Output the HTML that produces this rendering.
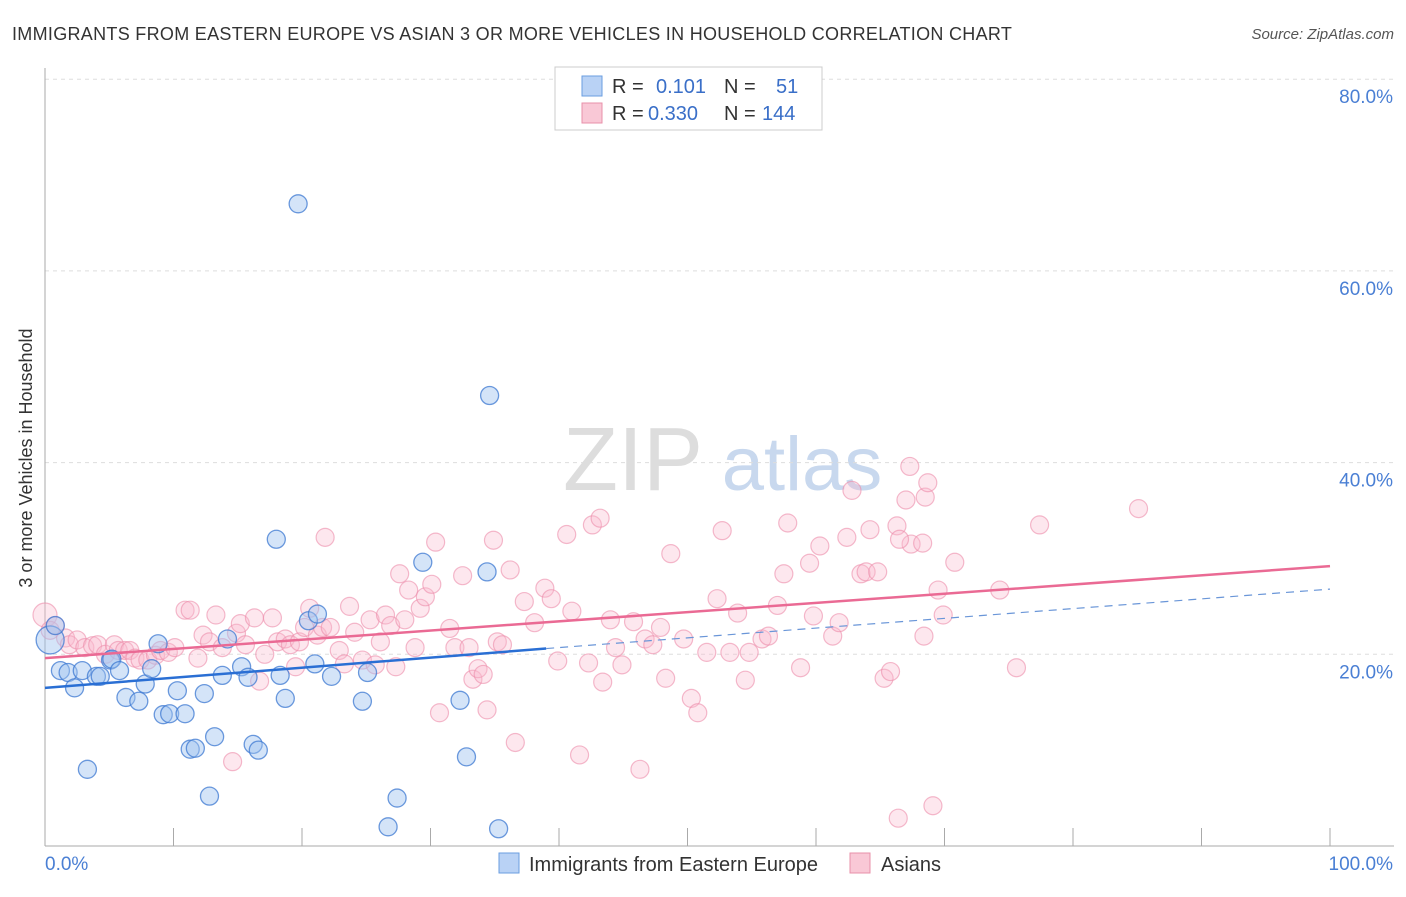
<!DOCTYPE html>
<html><head><meta charset="utf-8"><style>
body{margin:0;background:#fff;font-family:"Liberation Sans",sans-serif}
svg text{font-family:"Liberation Sans",sans-serif}
</style></head><body>
<svg id="c" width="1406" height="892" xmlns="http://www.w3.org/2000/svg">
<text x="12" y="40" font-size="18" letter-spacing="0.3" fill="#333">IMMIGRANTS FROM EASTERN EUROPE VS ASIAN 3 OR MORE VEHICLES IN HOUSEHOLD CORRELATION CHART</text>
<text x="1394" y="39" font-size="15" fill="#555" font-style="italic" text-anchor="end">Source: ZipAtlas.com</text>
<text x="32" y="458" font-size="18" fill="#333" text-anchor="middle" transform="rotate(-90 32 458)">3 or more Vehicles in Household</text>
<g><text x="633" y="490" font-size="90" fill="#ddd" font-family="Liberation Serif" text-anchor="middle">ZIP</text><text x="802" y="490" font-size="76" fill="#c8d8ee" text-anchor="middle">atlas</text></g>
<g id="grid"></g><g id="pts"></g><g id="lines"></g>
<g>
<rect x="555" y="67" width="267" height="63" fill="#fff" stroke="#ccc"/>
<rect x="582" y="76" width="20" height="20" fill="#b9d2f5" stroke="#6a9ee0"/>
<rect x="582" y="103" width="20" height="20" fill="#f9c8d6" stroke="#e890aa"/>
<text x="612" y="93" font-size="20" fill="#333">R =</text><text x="656" y="93" font-size="20" fill="#3a6fc8">0.101</text>
<text x="724" y="93" font-size="20" fill="#333">N =</text><text x="776" y="93" font-size="20" fill="#3a6fc8">51</text>
<text x="612" y="120" font-size="20" fill="#333">R =</text><text x="648" y="120" font-size="20" fill="#3a6fc8">0.330</text>
<text x="724" y="120" font-size="20" fill="#333">N =</text><text x="762" y="120" font-size="20" fill="#3a6fc8">144</text>
</g>
<g>
<rect x="499" y="853" width="20" height="20" fill="#b9d2f5" stroke="#6a9ee0"/>
<text x="529" y="871" font-size="20" fill="#333">Immigrants from Eastern Europe</text>
<rect x="850" y="853" width="20" height="20" fill="#f9c8d6" stroke="#e890aa"/>
<text x="881" y="871" font-size="20" fill="#333">Asians</text>
</g>
</svg>
<script>
const yTicks=[20,40,60,80];
const xTickLabels=["0.0%","100.0%"];
const blueX=[0.4,0.8,1.2,1.8,2.3,2.9,3.3,4.0,4.3,5.1,5.2,5.8,6.3,7.3,7.8,8.3,8.8,9.2,9.7,10.3,10.9,11.3,11.7,12.4,13.2,12.8,13.8,14.2,15.3,15.8,16.2,16.6,18.0,18.3,18.7,19.7,20.5,21.0,21.2,22.3,24.7,25.1,27.4,26.7,29.4,32.3,32.8,34.4,34.6,35.3];
const blueY=[21.5,23.0,18.3,18.1,16.5,18.3,8.0,17.7,17.7,19.4,19.5,18.3,15.5,15.1,16.9,18.5,21.1,13.7,13.8,16.2,13.8,10.1,10.2,15.9,11.4,5.2,17.8,21.6,18.7,17.6,10.6,10.0,32.0,17.8,15.4,67.0,23.5,19.0,24.2,17.7,15.1,18.1,5.0,2.0,29.6,15.2,9.3,28.6,47.0,1.8];
const pinkX=[0.0,0.4,0.8,1.6,1.9,2.5,3.1,3.7,4.1,4.7,5.4,5.7,6.2,6.6,7.0,7.4,8.0,8.6,9.0,9.6,10.1,10.9,11.3,11.9,12.3,12.8,13.3,13.8,14.6,14.9,15.2,15.6,16.3,16.7,17.1,17.7,18.1,18.7,19.1,19.5,19.8,20.2,20.6,21.2,21.6,21.8,22.2,22.9,23.3,23.7,24.1,24.7,25.3,25.7,26.1,26.5,26.9,27.3,27.6,28.0,28.3,28.8,29.2,29.6,30.1,30.4,30.7,31.5,31.9,32.5,33.0,33.3,33.7,34.1,34.4,34.9,35.2,35.6,36.2,36.6,37.3,38.1,38.9,39.4,39.9,40.6,41.0,41.6,42.3,42.6,43.2,43.4,44.0,44.4,44.9,45.8,46.3,46.7,47.3,47.9,48.3,48.7,49.7,50.3,50.8,51.5,52.3,52.7,53.3,53.9,54.5,54.8,55.8,56.3,57.0,57.5,57.8,58.8,59.5,59.8,60.3,61.3,61.8,62.4,62.8,63.5,63.9,64.2,64.8,65.3,65.8,66.3,67.0,67.4,68.3,68.5,69.1,66.4,66.5,67.3,68.4,68.7,69.5,69.9,70.8,74.3,75.6,77.4,85.1];
const pinkY=[24.1,22.5,23.0,21.7,21.0,21.5,20.7,20.9,21.0,20.0,21.0,20.4,20.4,20.4,19.6,19.4,19.4,19.9,20.4,20.2,20.7,24.6,24.6,19.6,22.0,21.3,24.1,20.7,8.8,22.2,23.2,21.0,23.8,17.2,20.0,23.8,21.3,21.6,21.0,18.7,21.3,22.8,24.8,22.0,22.8,32.2,22.8,20.4,19.0,25.0,22.3,19.4,23.6,18.9,21.3,24.1,23.0,18.7,28.4,23.6,26.7,20.7,24.8,26.0,27.3,31.7,13.9,22.7,20.7,28.2,20.7,17.4,18.5,17.9,14.2,31.9,21.3,21.0,28.8,10.8,25.5,23.3,26.9,25.8,19.3,32.5,24.5,9.5,19.1,33.5,34.2,17.1,23.6,20.7,18.9,23.4,8.0,21.6,21.0,22.8,17.5,30.5,21.6,15.4,13.9,20.2,25.8,32.9,20.2,24.3,17.3,20.2,21.6,21.9,25.1,28.4,33.7,18.6,29.5,24.0,31.3,21.9,23.3,32.2,37.1,28.4,28.6,33.0,28.6,17.5,18.2,33.4,36.1,31.5,31.6,36.4,4.2,2.9,32.0,39.6,21.9,37.9,26.7,24.1,29.6,26.7,18.6,33.5,35.2];
const blueLine=[[0,16.5],[39,20.6]],blueDash=[[39,20.6],[100,26.8]];
const pinkLine=[[0,19.6],[100,29.2]];
const NS='http://www.w3.org/2000/svg';
const X=v=>45+v*12.85, Y=v=>846-v*9.585;
function mk(t,a,p){const e=document.createElementNS(NS,t);for(const k in a)e.setAttribute(k,a[k]);p.appendChild(e);return e;}
const grid=document.getElementById('grid');
yTicks.forEach(t=>{const l=mk('line',{x1:45,x2:1394,y1:Y(t),y2:Y(t),stroke:'#ddd','stroke-dasharray':'4,4'},grid);

const tx=mk('text',{x:1393,y:Y(t)+24,'font-size':19,fill:'#4a7fd4','text-anchor':'end'},grid);tx.textContent=t.toFixed(1)+'%';
});
const ax=mk('line',{x1:45,x2:45,y1:68,y2:846,stroke:'#aaa'},grid);
const bx=mk('line',{x1:45,x2:1394,y1:846,y2:846,stroke:'#aaa'},grid);
for(let i=0;i<=10;i++){const t=mk('line',{x1:X(i*10),x2:X(i*10),y1:828,y2:846,stroke:'#aaa'},grid);}
[[0,'start',45],[1,'end',1393]].forEach(([i,a,x])=>{const t=mk('text',{x:x,y:870,'font-size':19,fill:'#4a7fd4','text-anchor':a},grid);t.textContent=xTickLabels[i];});
const pts=document.getElementById('pts');
pinkX.forEach((v,i)=>{const c=mk('circle',{cx:X(v),cy:Y(pinkY[i]),r:i==0?12:9,fill:'rgba(248,185,205,0.35)',stroke:'rgba(236,140,170,0.6)','stroke-width':1.2},pts);
});
blueX.forEach((v,i)=>{const c=mk('circle',{cx:X(v),cy:Y(blueY[i]),r:i==0?14:9,fill:'rgba(160,195,240,0.45)',stroke:'rgba(60,120,210,0.75)','stroke-width':1.3},pts);
});
const lines=document.getElementById('lines');
function ln(p,col,w,d,n){const l=mk('line',{x1:X(p[0][0]),y1:Y(p[0][1]),x2:X(p[1][0]),y2:Y(p[1][1]),stroke:col,'stroke-width':w},lines);if(d)l.setAttribute('stroke-dasharray',d);
}
ln(pinkLine,'#ea6a94',2.5,null,'asian-trend-line');
ln(blueLine,'#2a6fd4',2.5,null,'eastern-europe-trend-line');
ln(blueDash,'#6a96d8',1.2,'8,6','eastern-europe-trend-extension');
</script>
</body></html>
